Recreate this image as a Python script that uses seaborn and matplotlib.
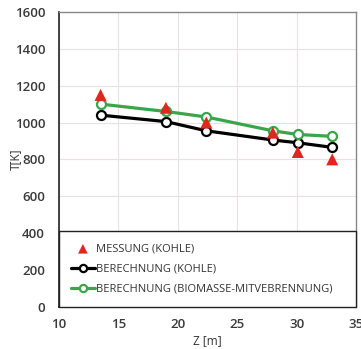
import matplotlib
matplotlib.use("Agg")
import matplotlib.pyplot as plt
import seaborn as sns
import pandas as pd

# values
z_m = [13.5, 19.0, 22.4, 28.0, 30.1, 33.0]
messung_kohle = [1150, 1080, 1000, 945, 840, 800]
berechnung_kohle = [1040, 1005, 955, 905, 890, 865]
berechnung_biomasse = [1100, 1060, 1030, 955, 935, 925]

x_ticks = [10, 15, 20, 25, 30, 35]
y_ticks = [0, 200, 400, 600, 800, 1000, 1200, 1400, 1600]

sns.set_style("white")
plt.rcParams['font.family'] = ['Open Sans', 'DejaVu Sans']

df = pd.DataFrame({
    "z": z_m,
    "messung": messung_kohle,
    "kohle": berechnung_kohle,
    "biomasse": berechnung_biomasse,
})

fig = plt.figure(figsize=(3.61, 3.49), dpi=100)
ax = fig.add_axes([59 / 361, 1 - 306.7 / 349, 297 / 361, 294.7 / 349])

sns.lineplot(data=df, x="z", y="kohle", ax=ax, color="black", lw=2.3,
             marker="o", markersize=6.5, markerfacecolor="white",
             markeredgecolor="black", markeredgewidth=1.6,
             label="BERECHNUNG (KOHLE)", zorder=3)
sns.lineplot(data=df, x="z", y="biomasse", ax=ax, color="#3aa54a", lw=2.3,
             marker="o", markersize=6.5, markerfacecolor="white",
             markeredgecolor="#3aa54a", markeredgewidth=1.6,
             label="BERECHNUNG (BIOMASSE-MITVEBRENNUNG)", zorder=4)
sns.scatterplot(data=df, x="z", y="messung", ax=ax, color="#e0261e",
                marker="^", s=75, edgecolor="none",
                label="MESSUNG (KOHLE)", zorder=5)

ax.set_xlim(10, 35)
ax.set_ylim(0, 1600)
ax.set_xticks(x_ticks)
ax.set_yticks(y_ticks)
ax.grid(True, color="#e9e1e1", lw=0.8)
ax.tick_params(axis="both", labelsize=9.5, colors="#3a3a3a", length=0)
ax.tick_params(axis="y", pad=10)
ax.tick_params(axis="x", pad=8)
for lab in ax.get_xticklabels() + ax.get_yticklabels():
    lab.set_fontweight("semibold")
for side in ["left", "bottom"]:
    ax.spines[side].set_color("#222222")
    ax.spines[side].set_linewidth(1.2)
for side in ["top", "right"]:
    ax.spines[side].set_color("#888888")
    ax.spines[side].set_linewidth(1.0)

ax.set_xlabel("Z [m]", fontsize=8.5, color="#333333", labelpad=2)
ax.set_ylabel("T[K]", fontsize=8.5, color="#333333")
ax.yaxis.set_label_coords(-0.125, 0.5)

handles, labels = ax.get_legend_handles_labels()
order = [2, 0, 1]
leg = ax.legend([handles[i] for i in order], [labels[i] for i in order],
                loc="lower left", bbox_to_anchor=(0, 0, 1, 0.255), mode="expand",
                borderaxespad=0, fontsize=8, frameon=True, fancybox=False,
                edgecolor="#222222", labelspacing=0.8, borderpad=1.1,
                handlelength=2.1, handletextpad=0.15, markerscale=0.8)
leg.get_frame().set_linewidth(1.0)
leg.get_frame().set_alpha(1)
for t in leg.get_texts():
    t.set_color("#333333")
leg.set_zorder(10)

fig.savefig("out.png", dpi=100)
